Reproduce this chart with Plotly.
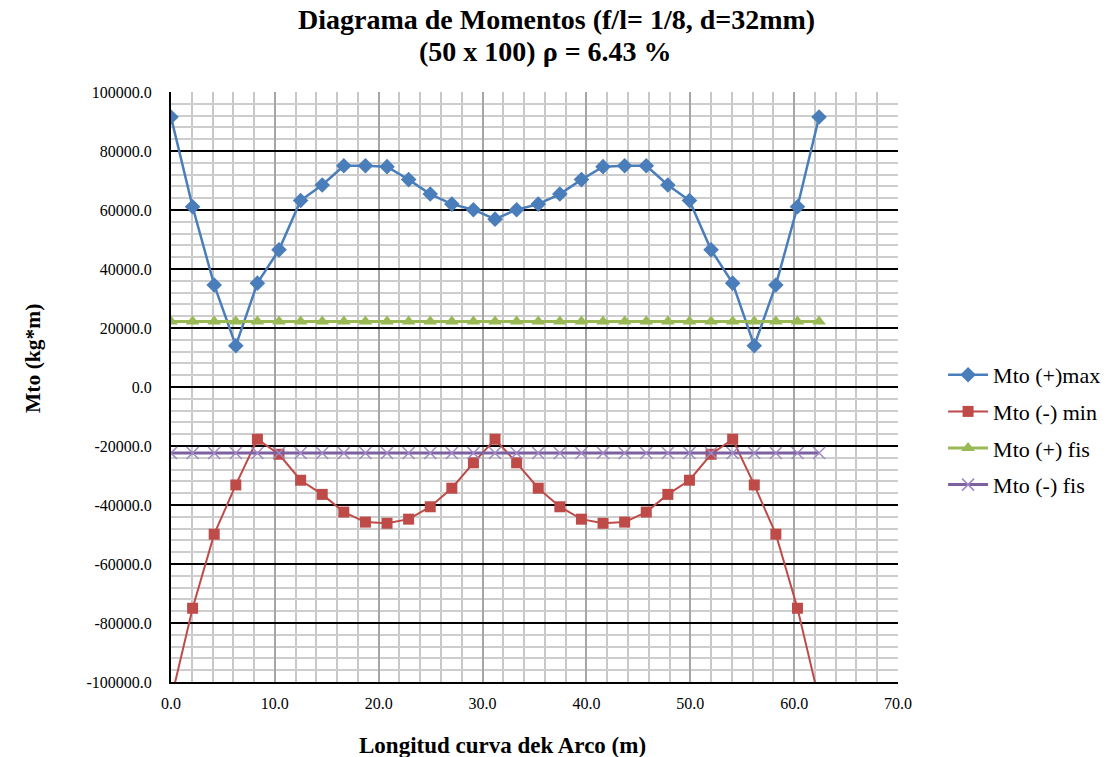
import plotly.graph_objects as go

# Arc length stations (m)
longitud = [0.0, 2.08, 4.16, 6.24, 8.32, 10.4, 12.48, 14.56, 16.64, 18.72, 20.8,
            22.88, 24.96, 27.04, 29.12, 31.2, 33.28, 35.36, 37.44, 39.52, 41.6,
            43.68, 45.76, 47.84, 49.92, 52.0, 54.08, 56.16, 58.24, 60.32, 62.4]

# Moments (kg*m)
mto_max = [91500, 61100, 34600, 14000, 35200, 46500, 63200, 68500, 75000, 75000,
           74700, 70300, 65400, 62000, 60100, 56900, 60100, 62000, 65400, 70300,
           74700, 75000, 75000, 68500, 63200, 46500, 35200, 14000, 34600, 61100, 91500]

mto_min = [-106000, -75000, -49900, -33200, -17700, -22800, -31600, -36400, -42400, -45800,
           -46200, -44800, -40600, -34300, -25700, -17700, -25700, -34300, -40600, -44800,
           -46200, -45800, -42400, -36400, -31600, -22800, -17700, -33200, -49900, -75000, -106000]

mto_pos_fis = [22200, 22200, 22200, 22200, 22200, 22200, 22200, 22200, 22200, 22200,
               22200, 22200, 22200, 22200, 22200, 22200, 22200, 22200, 22200, 22200,
               22200, 22200, 22200, 22200, 22200, 22200, 22200, 22200, 22200, 22200, 22200]

mto_neg_fis = [-22400, -22400, -22400, -22400, -22400, -22400, -22400, -22400, -22400, -22400,
               -22400, -22400, -22400, -22400, -22400, -22400, -22400, -22400, -22400, -22400,
               -22400, -22400, -22400, -22400, -22400, -22400, -22400, -22400, -22400, -22400, -22400]

x_ticks = [0, 10, 20, 30, 40, 50, 60, 70]
x_tick_labels = ["0.0", "10.0", "20.0", "30.0", "40.0", "50.0", "60.0", "70.0"]
y_ticks = [100000, 80000, 60000, 40000, 20000, 0, -20000, -40000, -60000, -80000, -100000]
y_tick_labels = ["100000.0", "80000.0", "60000.0", "40000.0", "20000.0", "0.0",
                 "-20000.0", "-40000.0", "-60000.0", "-80000.0", "-100000.0"]

FONT = "Liberation Serif"

fig = go.Figure()

fig.add_trace(go.Scatter(
    x=longitud, y=mto_max, name="Mto (+)max", mode="lines+markers", legendgroup="a",
    line=dict(color="#4A7EBB", width=2.5),
    marker=dict(symbol="diamond", size=12, color="#4A7EBB"),
))
fig.add_trace(go.Scatter(
    x=longitud, y=mto_min, name="Mto (-) min", mode="lines+markers", legendgroup="b",
    line=dict(color="#BE4B48", width=2),
    marker=dict(symbol="square", size=11, color="#BE4B48"),
))
fig.add_trace(go.Scatter(
    x=longitud, y=mto_pos_fis, name="Mto (+) fis", mode="lines+markers", legendgroup="c",
    line=dict(color="#98B954", width=3),
    marker=dict(symbol="triangle-up", size=12, color="#98B954"),
))
fig.add_trace(go.Scatter(
    x=longitud, y=mto_neg_fis, name="Mto (-) fis", mode="lines+markers", legendgroup="d",
    line=dict(color="#7D60A0", width=3),
    marker=dict(symbol="x-thin", size=12, line=dict(color="#9F88C4", width=1.5)),
))

fig.update_layout(
    width=1118, height=757,
    margin=dict(l=171, r=215, t=92, b=75),
    paper_bgcolor="white", plot_bgcolor="white",
    font=dict(family=FONT, color="#000000"),
    showlegend=True,
    legend=dict(
        x=1.062, xanchor="left", y=(682 - 430) / 590, yanchor="middle",
        font=dict(family=FONT, size=22, color="#000000"),
        bgcolor="rgba(0,0,0,0)", tracegroupgap=5, itemwidth=40,
    ),
    xaxis=dict(
        range=[0, 70], tickvals=x_ticks, ticktext=x_tick_labels,
        showgrid=True, gridcolor="#A6A6A6", gridwidth=2,
        minor=dict(dtick=2, showgrid=True, gridcolor="#C8C8C8", gridwidth=1.5),
        showline=True, linecolor="#000000", linewidth=2, mirror=False,
        ticks="", ticklabelstandoff=6, tickfont=dict(family=FONT, size=16, color="#000000"),
        zeroline=False,
    ),
    yaxis=dict(
        range=[-100000, 100000], tickvals=y_ticks, ticktext=y_tick_labels,
        showgrid=True, gridcolor="#000000", gridwidth=2,
        minor=dict(dtick=4000, showgrid=True, gridcolor="#CDCDCD", gridwidth=1.5),
        showline=True, linecolor="#000000", linewidth=2,
        ticks="", ticklabelstandoff=14, tickfont=dict(family=FONT, size=16, color="#000000"),
        zeroline=True, zerolinecolor="#000000", zerolinewidth=2,
    ),
)

# Chart title (two lines)
fig.add_annotation(
    text="<b>Diagrama de Momentos (f/l= 1/8, d=32mm)</b>",
    xref="paper", yref="paper", x=0.53, y=1.0 + (92 - 20) / 590,
    xanchor="center", yanchor="middle", showarrow=False,
    font=dict(family=FONT, size=28, color="#000000"),
)
fig.add_annotation(
    text="<b>(50 x 100) ρ = 6.43 %</b>",
    xref="paper", yref="paper", x=0.515, y=1.0 + (92 - 51) / 590,
    xanchor="center", yanchor="middle", showarrow=False,
    font=dict(family=FONT, size=28, color="#000000"),
)

# Axis titles
fig.add_annotation(
    text="<b>Mto (kg*m)</b>", textangle=-90,
    xref="paper", yref="paper", x=(32 - 171) / 732, y=(682 - 358) / 590,
    xanchor="center", yanchor="middle", showarrow=False,
    font=dict(family=FONT, size=21.5, color="#000000"),
)
fig.add_annotation(
    text="<b>Longitud curva dek Arco (m)</b>",
    xref="paper", yref="paper", x=(505 - 171) / 732, y=(682 - 745) / 590,
    xanchor="center", yanchor="middle", showarrow=False,
    font=dict(family=FONT, size=23, color="#000000"),
)

fig.write_html("out.html")
